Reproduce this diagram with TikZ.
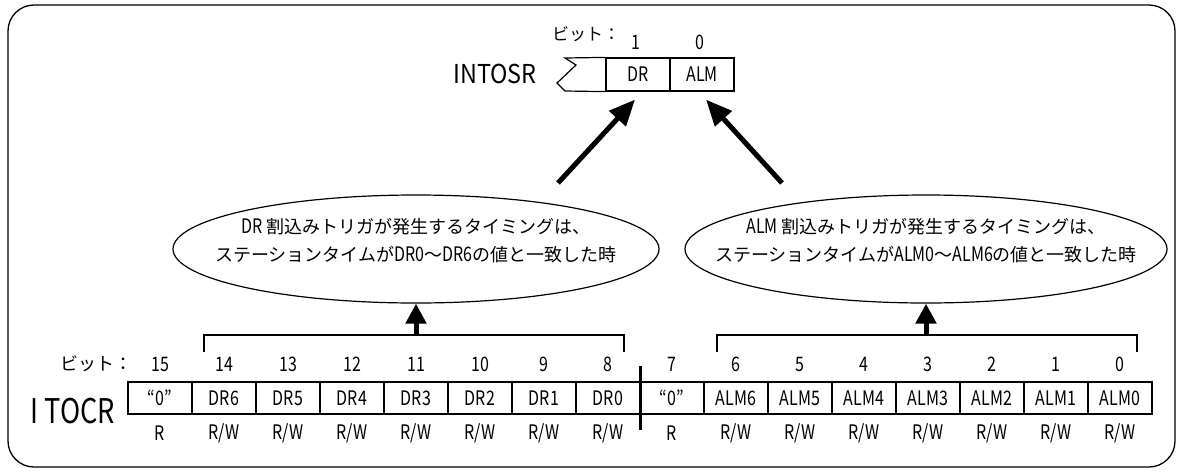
\documentclass[tikz,border=0pt]{standalone}
\usepackage{fontspec}
\setmainfont{Noto Sans CJK JP}
\newfontfamily\nar[FakeStretch=0.8]{Noto Sans CJK JP}
\newfontfamily\narw[FakeStretch=0.9]{Noto Sans CJK JP}
\newcommand\lat[1]{{\nar\fontsize{20}{28}\selectfont #1}}
\usetikzlibrary{arrows.meta,shapes.geometric,calc}
\begin{document}
\begin{tikzpicture}[x=1pt,y=-1pt,
  thinline/.style={line width=1.2pt},
  cell/.style={draw,line width=1.2pt,minimum width=64pt,minimum height=32pt,inner sep=0pt,font=\nar\fontsize{20}{20}\selectfont},
  rcell/.style={draw,line width=1.2pt,minimum width=64pt,minimum height=33pt,inner sep=0pt,font=\nar\fontsize{20}{20}\selectfont},
  bitnum/.style={inner sep=0pt,font=\nar\fontsize{20}{20}\selectfont},
  acc/.style={inner sep=0pt,font=\nar\fontsize{20}{20}\selectfont},
  kana/.style={inner sep=0pt,font=\fontsize{17}{17}\selectfont},
  ell/.style={draw,ellipse,line width=1.2pt,inner sep=0pt},
  etext/.style={inner sep=0pt,align=center,font=\fontsize{18}{28}\selectfont},
  barrow/.style={line width=5pt,-{Triangle[length=26pt,width=22pt]}},
  varrow/.style={line width=5pt,-{Triangle[length=20pt,width=20pt]}}
]
\useasboundingbox (0,0) rectangle (1182,472);
\draw[line width=1.3pt,rounded corners=26pt] (8,5) rectangle (1175,467);

% INTOSR register
\node[font=\narw\fontsize{26}{26}\selectfont,inner sep=0pt] (intosr) at (495,74) {INTOSR};
\node[rcell] (dr) at (638,74.5) {DR};
\node[rcell] (alm) at (702,74.5) {ALM};
\draw[thinline] (dr.north west) -- (565,58) -- (576,65) -- (557,83) -- (565,91) -- (dr.south west);
\node[kana] (bt1) at (586,34) {ビット：};
\node[bitnum] (b1) at (636,42) {1};
\node[bitnum] (b0) at (700,42) {0};

% big arrows
\coordinate (s1) at (558,183);
\coordinate (s2) at (782,183);
\draw[barrow] (s1) -- ($(dr.south)+(-3,8)$);
\draw[barrow] (s2) -- ($(alm.south)+(4,8)$);

% ellipses
\node[ell,minimum width=486pt,minimum height=108pt] (e1) at (416,249) {};
\node[etext] (t1) at (416,241) {\lat{DR} 割込みトリガが発生するタイミングは、\\ステーションタイムが\lat{DR0}～\lat{DR6}の値と一致した時};
\node[ell,minimum width=482pt,minimum height=108pt] (e2) at (926,249) {};
\node[etext] (t2) at (926,241) {\lat{ALM} 割込みトリガが発生するタイミングは、\\ステーションタイムが\lat{ALM0}～\lat{ALM6}の値と一致した時};

% brackets
\coordinate (bl) at (416,335);
\coordinate (br) at (926,335);
\draw[thinline] (204,352) -- (204,335) -- (624,335) -- (624,352);
\draw[thinline] (717,352) -- (717,335) -- (1137,335) -- (1137,352);
\draw[varrow] (bl) -- (bl |- e1.south);
\draw[varrow] (br) -- (br |- e2.south);

% ITOCR register
\node[font=\nar\fontsize{34}{34}\selectfont,inner sep=0pt] (itocr) at (73,411) {I\,TOCR};
\node[kana,font=\fontsize{18}{18}\selectfont] (bt2) at (96,364) {ビット：};
\foreach \b/\t in {15/{“0”},14/DR6,13/DR5,12/DR4,11/DR3,10/DR2,9/DR1,8/DR0,7/{“0”},6/ALM6,5/ALM5,4/ALM4,3/ALM3,2/ALM2,1/ALM1,0/ALM0}{
  \pgfmathsetmacro\cx{160+64*(15-\b)}
  \node[cell] (c\b) at (\cx,398) {\t};
  \node[bitnum] (n\b) at (\cx,364) {\b};
  \node[acc] (a\b) at (\cx,433) {\ifnum\b=15 R\else\ifnum\b=7 R\else R/W\fi\fi};
}
\draw[line width=3pt] ($(c8.north east)+(0,-15)$) -- ($(c8.south east)+(0,15)$);
\end{tikzpicture}
\end{document}
